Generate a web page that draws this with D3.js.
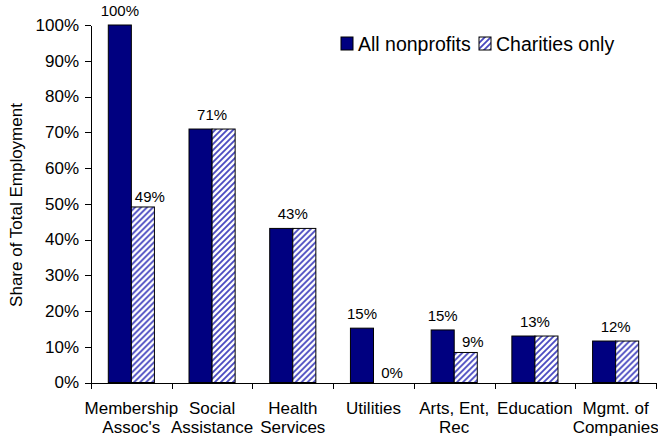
<!DOCTYPE html>
<html>
<head>
<meta charset="utf-8">
<script src="https://d3js.org/d3.v7.min.js"></script>
<style>
  body { margin: 0; background: #fff; }
  svg { display: block; font-family: "Liberation Sans", Arial, sans-serif; }
  .axis path, .axis line { stroke: #000; shape-rendering: crispEdges; }
</style>
</head>
<body>
<div id="chart"></div>
<script>
// categories (two-line labels) and the two series, in percent
var categories = [
    ["Membership", "Assoc's"],
    ["Social", "Assistance"],
    ["Health", "Services"],
    ["Utilities", ""],
    ["Arts, Ent,", "Rec"],
    ["Education", ""],
    ["Mgmt. of", "Companies"]
];
var allNonprofits = [100, 70.9, 43.1, 15.2, 14.7, 13.0, 11.6];
var charitiesOnly = [49.1, 70.9, 43.1, 0, 8.4, 13.0, 11.6];
var seriesNames = ["All nonprofits", "Charities only"];
var yTicks = [0, 10, 20, 30, 40, 50, 60, 70, 80, 90, 100];
// data labels: which bar (0 = all, 1 = charities, "both" = one label over the pair)
var dataLabels = [
    { cat: 0, s: 0, text: "100%" },
    { cat: 0, s: 1, text: "49%" },
    { cat: 1, s: "both", text: "71%" },
    { cat: 2, s: "both", text: "43%" },
    { cat: 3, s: 0, text: "15%" },
    { cat: 3, s: 1, text: "0%" },
    { cat: 4, s: 0, text: "15%" },
    { cat: 4, s: 1, text: "9%" },
    { cat: 5, s: "both", text: "13%" },
    { cat: 6, s: "both", text: "12%" }
];

var dim = {
    width: 658, height: 438,
    margin: { top: 25, right: 2, bottom: 55.5, left: 91 }
};
dim.plot = {
    width: dim.width - dim.margin.left - dim.margin.right,
    height: dim.height - dim.margin.top - dim.margin.bottom
};

var svg = d3.select("#chart").append("svg")
        .attr("width", dim.width)
        .attr("height", dim.height);

var defs = svg.append("defs");
var hatch = defs.append("pattern")
        .attr("id", "hatch")
        .attr("patternUnits", "userSpaceOnUse")
        .attr("width", 6)
        .attr("height", 6);
hatch.append("rect")
        .attr("width", 6).attr("height", 6)
        .attr("fill", "#fff");
hatch.append("path")
        .attr("d", "M-1,1 l2,-2 M0,6 l6,-6 M5,7 l2,-2")
        .attr("stroke", "#4848c0")
        .attr("stroke-width", 1.8);

var g = svg.append("g")
        .attr("transform", "translate(" + dim.margin.left + "," + dim.margin.top + ")");

var x = d3.scaleBand()
        .domain(d3.range(categories.length))
        .range([0, dim.plot.width]);

// bars are band/3.5 wide, two per group, centred in the band
var barW = x.bandwidth() / 3.5;

var xEdges = d3.scaleLinear()
        .domain([0, categories.length])
        .range([0, dim.plot.width]);

var y = d3.scaleLinear()
        .domain([0, 100])
        .range([dim.plot.height, 0]);

// y axis
var yAxis = d3.axisLeft(y)
        .tickValues(yTicks)
        .tickSizeInner(6)
        .tickSizeOuter(0)
        .tickPadding(6)
        .tickFormat(function(d) { return d + "%"; });

g.append("g")
        .attr("class", "y axis")
        .call(yAxis)
        .selectAll("text")
        .attr("font-size", 17)
        .attr("fill", "#000");

// x axis, ticks on the band edges
var xAxis = d3.axisBottom(xEdges)
        .tickValues(d3.range(categories.length + 1))
        .tickSizeInner(6)
        .tickSizeOuter(0)
        .tickFormat("");

g.append("g")
        .attr("class", "x axis")
        .attr("transform", "translate(0," + dim.plot.height + ")")
        .call(xAxis);

// category labels
var catText = g.append("g")
        .selectAll("text")
        .data(categories)
        .enter().append("text")
        .attr("text-anchor", "middle")
        .attr("font-size", 17)
        .attr("x", function(d, i) { return x(i) + x.bandwidth() / 2; })
        .attr("y", dim.plot.height + 31);
catText.append("tspan")
        .text(function(d) { return d[0]; });
catText.append("tspan")
        .attr("x", function(d, i) { return x(i) + x.bandwidth() / 2; })
        .attr("dy", 19)
        .text(function(d) { return d[1]; });

// bars
var groups = g.append("g")
        .selectAll("g")
        .data(categories)
        .enter().append("g")
        .attr("transform", function(d, i) { return "translate(" + (x(i) + x.bandwidth() / 2) + ",0)"; });

groups.append("rect")
        .attr("x", -barW)
        .attr("width", barW)
        .attr("y", function(d, i) { return y(allNonprofits[i]); })
        .attr("height", function(d, i) { return y(0) - y(allNonprofits[i]); })
        .attr("fill", "#000080")
        .attr("stroke", "#000")
        .attr("stroke-width", 1);

groups.append("rect")
        .attr("x", 0)
        .attr("width", barW)
        .attr("y", function(d, i) { return y(charitiesOnly[i]); })
        .attr("height", function(d, i) { return y(0) - y(charitiesOnly[i]); })
        .attr("fill", "url(#hatch)")
        .attr("stroke", "#000")
        .attr("stroke-width", 1);

// data labels
g.append("g")
        .selectAll("text")
        .data(dataLabels)
        .enter().append("text")
        .attr("text-anchor", "middle")
        .attr("font-size", 15)
        .attr("fill", "#000")
        .attr("x", function(d) {
            var c = x(d.cat) + x.bandwidth() / 2;
            if (d.s === 0) return c - barW / 2;
            if (d.s === 1) return c + barW / 2 + 7;
            return c;
        })
        .attr("y", function(d) {
            var v = d.s === 1 ? charitiesOnly[d.cat] : allNonprofits[d.cat];
            return y(v) - (d.s === 1 ? 5 : 9);
        })
        .text(function(d) { return d.text; });

// y title
svg.append("text")
        .attr("transform", "translate(22," + (dim.margin.top + 180) + ") rotate(-90)")
        .attr("text-anchor", "middle")
        .attr("font-size", 17)
        .text("Share of Total Employment");

// legend
var legend = svg.append("g")
        .attr("transform", "translate(341,37)");
var legendX = [0, 138];
var items = legend.selectAll("g")
        .data(seriesNames)
        .enter().append("g")
        .attr("transform", function(d, i) { return "translate(" + legendX[i] + ",0)"; });
items.append("rect")
        .attr("width", 12)
        .attr("height", 13)
        .attr("fill", function(d, i) { return i === 0 ? "#000080" : "url(#hatch)"; })
        .attr("stroke", "#000")
        .attr("stroke-width", 1);
items.append("text")
        .attr("x", 17)
        .attr("y", 14)
        .attr("font-size", 19.5)
        .text(function(d) { return d; });
</script>
</body>
</html>
